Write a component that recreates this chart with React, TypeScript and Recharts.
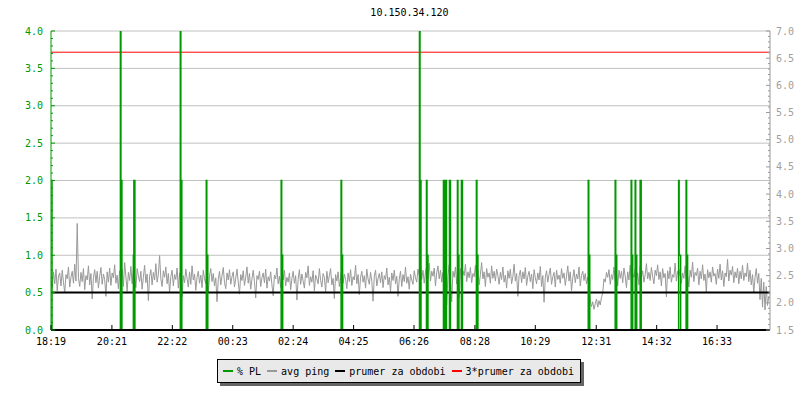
import { Line, LineChart, ReferenceLine, XAxis, YAxis } from "recharts";

const FONT = '"DejaVu Sans Mono", monospace';
const GREEN = "#009900";
const GRAY = "#999999";
const GRID = "#c0c0c0";

const title = "10.150.34.120";

// x axis labels (clock time, starting 18:19)
const timeLabels = [
  "18:19", "20:21", "22:22", "00:23", "02:24", "04:25",
  "06:26", "08:28", "10:29", "12:31", "14:32", "16:33",
];

// avg ping in ms, one sample every 2.5 minutes from 18:19
const pingValues = [
  2.41, 2.28, 2.57, 2.35, 2.62, 2.22, 2.49, 2.55, 2.31, 2.6, 2.38, 2.18, 2.52, 2.44, 2.66, 2.29, 2.47, 2.58, 2.36, 2.71, 2.4, 3.46, 2.45, 2.3,
  2.56, 2.39, 2.63, 2.24, 2.5, 2.42, 2.68, 2.33, 2.54, 2.07, 2.46, 2.61, 2.37, 2.58, 2.27, 2.49, 2.65, 2.34, 2.53, 2.43, 2.12, 2.57, 2.38, 2.64,
  2.32, 2.55, 2.46, 2.7, 2.36, 2.51, 2.26, 2.59, 2.44, 2.62, 2.3, 2.74, 2.48, 2.21, 2.56, 2.41, 2.67, 2.35, 2.6, 2.45, 2.28, 2.63, 2.5, 2.39,
  2.58, 2.25, 2.47, 2.69, 2.37, 2.53, 2.04, 2.49, 2.61, 2.33, 2.56, 2.42, 2.72, 2.38, 2.52, 2.87, 2.44, 2.3, 2.59, 2.47, 2.66, 2.35, 2.54, 2.19,
  2.48, 2.6, 2.31, 2.52, 2.43, 2.64, 2.27, 2.55, 2.4, 2.11, 2.5, 2.37, 2.62, 2.45, 2.29, 2.57, 2.34, 2.68, 2.42, 2.53, 2.23, 2.47, 2.58, 2.36,
  2.51, 2.28, 2.6, 2.44, 2.35, 2.56, 2.18, 2.49, 2.63, 2.39, 2.54, 2.31, 2.46, 2.02, 2.43, 2.58, 2.33, 2.5, 2.65, 2.37, 2.26, 2.55, 2.42, 2.61,
  2.34, 2.48, 2.57, 2.29, 2.45, 2.62, 2.38, 2.16, 2.52, 2.41, 2.59, 2.32, 2.47, 2.66, 2.36, 2.54, 2.25, 2.44, 2.6, 2.39, 2.09, 2.5, 2.43, 2.58,
  2.3, 2.46, 2.55, 2.37, 2.62, 2.27, 2.48, 2.4, 2.57, 2.33, 2.13, 2.51, 2.44, 2.64, 2.35, 2.49, 2.28, 2.56, 2.42, 2.6, 2.31, 2.47, 2.38, 2.55,
  2.24, 2.45, 2.58, 2.36, 2.5, 2.05, 2.43, 2.61, 2.34, 2.53, 2.4, 2.27, 2.56, 2.46, 2.68, 2.32, 2.48, 2.38, 2.59, 2.22, 2.51, 2.44, 2.35, 2.63,
  2.41, 2.29, 2.54, 2.47, 2.2, 2.58, 2.37, 2.5, 2.63, 2.33, 2.45, 2.08, 2.52, 2.4, 2.57, 2.3, 2.46, 2.65, 2.36, 2.53, 2.43, 2.26, 2.55, 2.39,
  2.61, 2.32, 2.48, 2.42, 2.69, 2.35, 2.52, 2.15, 2.47, 2.58, 2.38, 2.5, 2.27, 2.62, 2.44, 2.34, 2.56, 2.4, 2.03, 2.49, 2.6, 2.31, 2.45, 2.54,
  2.37, 2.57, 2.28, 2.5, 2.43, 2.64, 2.33, 2.47, 2.21, 2.55, 2.41, 2.6, 2.35, 2.49, 2.12, 2.44, 2.58, 2.3, 2.52, 2.39, 2.66, 2.36, 2.48, 2.25,
  2.53, 2.42, 2.34, 2.59, 2.46, 2.38, 2.62, 2.51, 2.7, 2.43, 2.6, 2.36, 2.57, 2.67, 2.45, 2.73, 2.4, 2.58, 2.49, 2.64, 2.31, 2.55, 2.68, 2.44,
  2.6, 2.38, 2.56, 2.05, 2.62, 1.96, 2.5, 2.7, 2.43, 2.02, 2.58, 2.47, 2.66, 2.35, 2.55, 2.1, 2.63, 2.42, 2.59, 2.5, 2.71, 2.39, 2.57, 2.46,
  2.65, 2.37, 2.54, 2.48, 2.69, 2.41, 2.6, 2.33, 2.52, 2.74, 2.44, 2.57, 2.3, 2.63, 2.47, 2.55, 2.36, 2.68, 2.45, 2.58, 2.4, 2.62, 2.5, 2.34,
  2.56, 2.43, 2.66, 2.38, 2.51, 2.27, 2.59, 2.45, 2.62, 2.35, 2.48, 2.71, 2.4, 2.54, 2.12, 2.5, 2.6, 2.37, 2.57, 2.44, 2.65, 2.32, 2.49, 2.58,
  2.39, 2.53, 2.26, 2.61, 2.46, 2.35, 2.55, 2.42, 2.67, 2.3, 2.5, 2.01, 2.47, 2.59, 2.38, 2.52, 2.64, 2.34, 2.48, 2.56, 2.29, 2.6, 2.43, 2.51,
  2.36, 2.63, 2.45, 2.55, 2.32, 2.49, 2.68, 2.4, 2.57, 2.22, 2.46, 2.61, 2.37, 2.53, 2.44, 2.66, 2.31, 2.5, 2.58, 2.41, 2.54, 2.35, 2.47, 2.29,
  2.05, 1.93, 2.02, 1.88, 1.98, 2.07, 1.92, 2.04, 1.96, 2.1, 2.18, 2.44, 2.38, 2.56, 2.47, 2.61, 2.34, 2.52, 2.43, 2.66, 2.39, 2.55, 2.31, 2.6,
  2.45, 2.58, 2.37, 2.64, 2.49, 2.28, 2.57, 2.42, 2.69, 2.36, 2.53, 2.47, 2.62, 2.4, 2.55, 2.33, 2.67, 2.46, 2.59, 2.38, 2.52, 2.72, 2.44, 2.56,
  2.41, 2.65, 2.48, 2.35, 2.6, 2.5, 2.7, 2.43, 2.57, 2.31, 2.63, 2.46, 2.54, 2.11, 2.59, 2.44, 2.66, 2.38, 2.52, 2.47, 2.73, 2.4, 2.58, 2.49,
  2.62, 2.36, 2.55, 2.45, 2.68, 2.42, 2.51, 2.29, 2.6, 2.47, 2.75, 2.39, 2.56, 2.5, 2.64, 2.33, 2.58, 2.44, 2.7, 2.41, 2.53, 2.2, 2.61, 2.46,
  2.57, 2.38, 2.66, 2.49, 2.54, 2.34, 2.62, 2.45, 2.71, 2.42, 2.59, 2.3, 2.55, 2.48, 2.8, 2.4, 2.6, 2.51, 2.67, 2.37, 2.57, 2.46, 2.64, 2.35,
  2.58, 2.44, 2.69, 2.41, 2.55, 2.48, 2.73, 2.39, 2.6, 2.33, 2.52, 2.18, 2.47, 2.63, 2.36, 2.54, 2.06, 2.45, 1.92, 2.38, 1.87, 2.3, 1.95, 2.12,
];

// % packet loss: [minute since 18:19, value], held until the next sample
const plSamples: [number, number][] = [
  [0, 2], [2, 0],
  [139, 4], [140, 2], [142, 0],
  [165, 1], [166, 2], [168, 0],
  [259, 4], [260, 2], [262, 0],
  [311, 2], [312, 1], [314, 0],
  [461, 2], [462, 1], [464, 0],
  [581, 2], [582, 1], [584, 0],
  [738, 4], [739, 2], [741, 0],
  [752, 2], [753, 1], [755, 0],
  [786, 2], [788, 0], [790, 2], [792, 0],
  [798, 2], [800, 0],
  [814, 2], [815, 1], [817, 0],
  [822, 2], [824, 0],
  [852, 2], [853, 1], [855, 0],
  [1076, 2], [1077, 1], [1079, 0],
  [1130, 2], [1131, 1], [1133, 0],
  [1162, 2], [1163, 1], [1165, 0],
  [1170, 2], [1171, 1], [1173, 0],
  [1180, 2], [1182, 0],
  [1257, 2], [1258, 1], [1261, 0],
  [1272, 2], [1273, 1], [1275, 0],
  [1440, 0],
];

const meanPing = 2.19;
const tripleMeanPing = 6.61;

const leftGrid = [0.5, 1, 1.5, 2, 2.5, 3, 3.5, 4];
const leftTicks = Array.from({ length: 41 }, (_, i) => i / 10);
const rightTicks = Array.from({ length: 56 }, (_, i) => 1.5 + i / 10);

const legendItems = [
  { label: "% PL", color: GREEN },
  { label: "avg ping", color: GRAY },
  { label: "prumer za obdobi", color: "#000000" },
  { label: "3*prumer za obdobi", color: "#ff0000" },
];

const toMinutes = (label: string) => {
  const [h, m] = label.split(":").map(Number);
  return (h * 60 + m - (18 * 60 + 19) + 1440) % 1440;
};
const timeTicks = timeLabels.map(toMinutes);

const pingData = pingValues.map((ping, i) => ({ t: i * 2.5, ping }));
const plData = plSamples.map(([t, pl]) => ({ t, pl }));

const isMajor = (v: number) => Math.abs(v * 2 - Math.round(v * 2)) < 1e-6;

const LeftTick = ({ x, y, payload }: any) => {
  const major = isMajor(payload.value);
  return (
    <g>
      <line x1={x} x2={x + (major ? 4 : 2)} y1={y} y2={y} stroke={GREEN} />
      {major && (
        <text x={x - 8} y={y} dy={3.5} textAnchor="end" fill={GREEN} fontSize={10} fontFamily={FONT}>
          {payload.value.toFixed(1)}
        </text>
      )}
    </g>
  );
};

const RightTick = ({ x, y, payload }: any) => {
  const major = isMajor(payload.value);
  return (
    <g>
      <line x1={x - (major ? 4 : 2)} x2={x} y1={y} y2={y} stroke={GRAY} />
      {major && (
        <text x={x + 6} y={y} dy={3.5} textAnchor="start" fill="#a0a0a0" fontSize={10} fontFamily={FONT}>
          {payload.value.toFixed(1)}
        </text>
      )}
    </g>
  );
};

const TimeTick = ({ x, y, payload, index }: any) => (
  <g>
    <line x1={x} x2={x} y1={y} y2={y - 5} stroke="#000" />
    <text x={x} y={y + 15} textAnchor="middle" fill="#000" fontSize={10} fontFamily={FONT}>
      {timeLabels[index] ?? payload.value}
    </text>
  </g>
);

export default function App() {
  return (
    <div style={{ position: "absolute", left: 0, top: 0, width: 800, height: 400, background: "#fff" }}>
      <div
        style={{
          position: "absolute",
          left: 0,
          width: 819,
          top: 7,
          textAlign: "center",
          fontFamily: FONT,
          fontSize: 10,
          lineHeight: "12px",
          color: "#000",
        }}
      >
        {title}
      </div>

      <LineChart width={800} height={400} data={pingData} margin={{ top: 31, right: 0, bottom: 50, left: 0 }}>
        {leftGrid.map((v) => (
          <ReferenceLine key={v} yAxisId="left" y={v} stroke={GRID} />
        ))}

        <XAxis
          dataKey="t"
          type="number"
          domain={[0, 1440]}
          ticks={timeTicks}
          interval={0}
          height={20}
          tickSize={0}
          tickMargin={0}
          allowDataOverflow
          axisLine={{ stroke: "#000" }}
          tick={(p: any) => <TimeTick {...p} />}
        />
        <YAxis
          yAxisId="left"
          width={51}
          domain={[0, 4]}
          ticks={leftTicks}
          interval={0}
          tickSize={0}
          tickMargin={0}
          allowDataOverflow
          axisLine={{ stroke: GREEN }}
          tick={(p: any) => <LeftTick {...p} />}
        />
        <YAxis
          yAxisId="right"
          orientation="right"
          width={30}
          domain={[1.5, 7]}
          ticks={rightTicks}
          interval={0}
          tickSize={0}
          tickMargin={0}
          allowDataOverflow
          axisLine={{ stroke: GRAY }}
          tick={(p: any) => <RightTick {...p} />}
        />

        <Line
          yAxisId="right"
          dataKey="ping"
          type="linear"
          stroke={GRAY}
          strokeWidth={1}
          dot={false}
          isAnimationActive={false}
        />
        <ReferenceLine yAxisId="right" y={meanPing} stroke="#000" strokeWidth={2} />
        <ReferenceLine yAxisId="right" y={tripleMeanPing} stroke="#ff0000" strokeWidth={1} />
        <Line
          yAxisId="left"
          data={plData}
          dataKey="pl"
          type="stepAfter"
          stroke={GREEN}
          strokeWidth={1.5}
          dot={false}
          isAnimationActive={false}
        />
        <ReferenceLine yAxisId="left" y={0} stroke="#000" strokeWidth={2} />
      </LineChart>

      <div
        style={{
          position: "absolute",
          left: 217,
          top: 359,
          width: 364,
          height: 24,
          boxSizing: "border-box",
          border: "1px solid #000",
          background: "#e9e9e9",
          boxShadow: "3px 3px 0 #666",
          display: "flex",
          alignItems: "center",
          paddingLeft: 5,
          fontFamily: FONT,
          fontSize: 10,
          color: "#000",
        }}
      >
        {legendItems.map((item) => (
          <div key={item.label} style={{ display: "flex", alignItems: "center", marginRight: 6 }}>
            <span style={{ display: "inline-block", width: 10, height: 2, background: item.color, marginRight: 4 }} />
            <span>{item.label}</span>
          </div>
        ))}
      </div>
    </div>
  );
}
